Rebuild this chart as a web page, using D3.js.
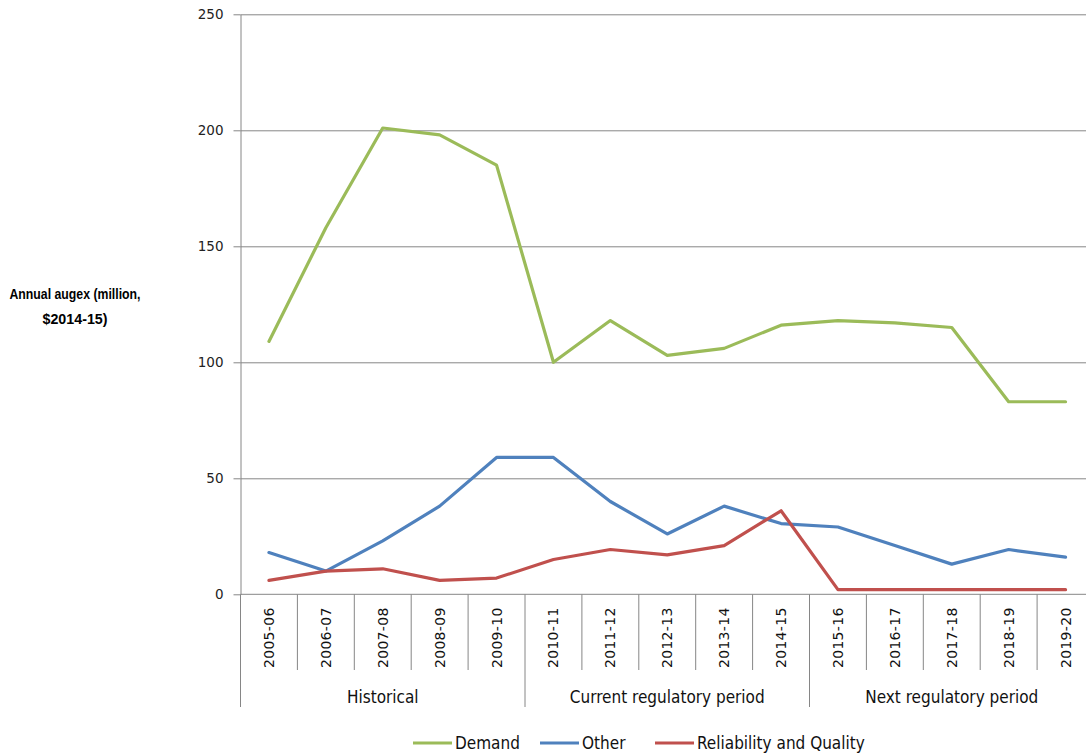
<!DOCTYPE html>
<html>
<head>
<meta charset="utf-8">
<script src="https://cdn.jsdelivr.net/npm/d3@7"></script>
<style>
  html, body { margin: 0; padding: 0; background: #fff; }
  svg { display: block; }
</style>
</head>
<body>
<svg id="chart" width="1086" height="753"></svg>
<script>
const categories = ["2005-06","2006-07","2007-08","2008-09","2009-10","2010-11","2011-12","2012-13","2013-14","2014-15","2015-16","2016-17","2017-18","2018-19","2019-20"];
const demand = [109,158,201,198,185,100,118,103,106,116,118,117,115,83,83];
const other = [18,10,23,38,59,59,40,26,38,30.5,29,21,13,19.3,16];
const reliability = [6,10,11,6,7,15,19.3,17,21,36,2,2,2,2,2];
const seriesNames = ["Demand","Other","Reliability and Quality"];
const seriesColors = ["#9BBB59","#4F81BD","#C0504D"];
const groupLabels = ["Historical","Current regulatory period","Next regulatory period"];
const groupSizes = [5,5,5];
const yTicks = [0,50,100,150,200,250];
const yTitle = ["Annual augex (million,","$2014-15)"];

(function(){
const svg = d3.select("#chart");
const pLeft = 240.5, pRight = 1094, pTop = 14.3, pBottom = 594.3;
const axisColor = "#868686";
const narrow = "'Liberation Sans Narrow','DejaVu Sans Condensed','Arial Narrow',sans-serif";

const x = d3.scaleBand().domain(categories).range([pLeft, pRight]).padding(0);
const y = d3.scaleLinear().domain([0,250]).range([pBottom, pTop]);
const cx = d => x(d) + x.bandwidth()/2;

// gridlines
const grid = svg.append("g").attr("transform",`translate(${pLeft},0)`)
  .call(d3.axisLeft(y).tickValues(yTicks.filter(t=>t>0)).tickSize(-(1086-pLeft)).tickFormat(""));
grid.select(".domain").remove();
grid.selectAll("line").attr("stroke", axisColor).attr("stroke-width",1);

// y axis
const ya = svg.append("g").attr("transform",`translate(${pLeft},0)`)
  .call(d3.axisLeft(y).tickValues(yTicks).tickSize(7).tickPadding(10).tickSizeOuter(0));
ya.select(".domain").attr("stroke", axisColor);
ya.selectAll("line").attr("stroke", axisColor);
ya.selectAll("text").attr("font-family","'DejaVu Sans',sans-serif").attr("font-size",13.5)
  .attr("fill","#222");

// x axis line
svg.append("line").attr("x1",pLeft).attr("x2",1086).attr("y1",y(0)).attr("y2",y(0))
  .attr("stroke",axisColor);

// category separators
const groupBounds = [];
let acc = 0;
groupSizes.forEach(n => { groupBounds.push(acc); acc += n; });
categories.forEach((c,i) => {
  const isGroup = groupBounds.includes(i);
  svg.append("line").attr("x1",x(c)).attr("x2",x(c))
    .attr("y1",y(0)).attr("y2", isGroup ? 707 : 670)
    .attr("stroke",axisColor).attr("stroke-width",1);
});

// category labels
svg.append("g").selectAll("text").data(categories).join("text")
  .attr("transform", d => `translate(${cx(d)+5},668) rotate(-90)`)
  .attr("text-anchor","start")
  .attr("font-family","'DejaVu Sans',sans-serif").attr("font-size",14)
  .attr("letter-spacing","0.3px").attr("fill","#111")
  .text(d => d);

// group labels
acc = 0;
groupLabels.forEach((g,i) => {
  const first = categories[acc], last = categories[acc+groupSizes[i]-1];
  const mid = (x(first) + x(last) + x.bandwidth())/2;
  svg.append("text").attr("x", mid).attr("y", 703).attr("text-anchor","middle")
    .attr("font-family", narrow).attr("font-size",17).attr("fill","#111").text(g);
  acc += groupSizes[i];
});

// lines
const data = [demand, other, reliability];
const line = d3.line().x((d,i) => cx(categories[i])).y(d => y(d));
data.forEach((s,k) => {
  svg.append("path").datum(s).attr("d", line).attr("fill","none")
    .attr("stroke", seriesColors[k]).attr("stroke-width",3.2)
    .attr("stroke-linejoin","round").attr("stroke-linecap","round");
});

// y title
const titleWidths = [131, 65];
yTitle.forEach((t,i) => {
  svg.append("text").attr("x",75).attr("y",299 + i*25).attr("text-anchor","middle")
    .attr("font-family", "'Liberation Sans',Arial,sans-serif").attr("font-weight","bold").attr("font-size",15)
    .attr("textLength", titleWidths[i]).attr("lengthAdjust","spacingAndGlyphs")
    .attr("fill","#000").text(t);
});

// legend
const legendX = [413, 540, 655];
seriesNames.forEach((n,k) => {
  svg.append("line").attr("x1",legendX[k]).attr("x2",legendX[k]+39)
    .attr("y1",743).attr("y2",743).attr("stroke",seriesColors[k]).attr("stroke-width",3.2);
  svg.append("text").attr("x",legendX[k]+42).attr("y",749)
    .attr("font-family", narrow).attr("font-size",17).attr("fill","#111").text(n);
});
})();
</script>
</body>
</html>
